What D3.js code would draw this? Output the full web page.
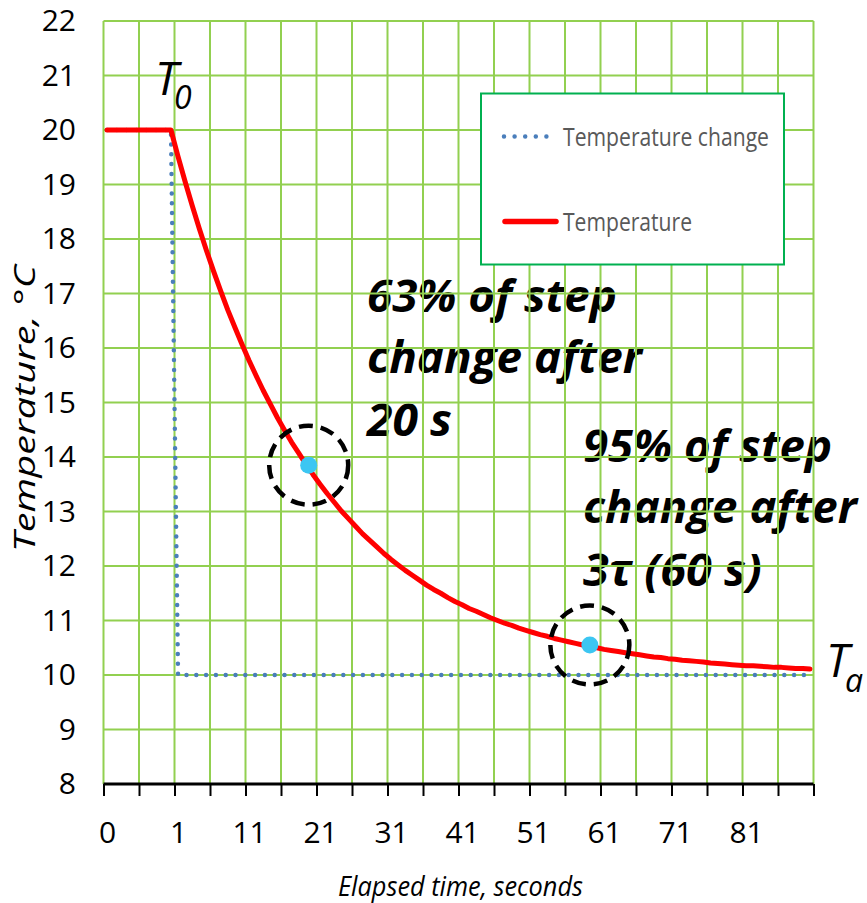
<!DOCTYPE html>
<html>
<head>
<meta charset="utf-8">
<script src="https://cdn.jsdelivr.net/npm/d3@7"></script>
<style>
  body { margin: 0; background: #fff; }
  svg { display: block; }
  .tick text { font-family: 'Liberation Sans Narrow', 'Open Sans', sans-serif; fill: #000; }
</style>
</head>
<body>
<div id="chart"></div>
<script>
// time categories (Excel-style category axis: 0..0.9 then whole seconds)
const timeCategories = [0, 0.1, 0.2, 0.3, 0.4, 0.5, 0.6, 0.7, 0.8, 0.9,
  1, 2, 3, 4, 5, 6, 7, 8, 9, 10, 11, 12, 13, 14, 15, 16, 17, 18, 19, 20,
  21, 22, 23, 24, 25, 26, 27, 28, 29, 30, 31, 32, 33, 34, 35, 36, 37, 38, 39, 40,
  41, 42, 43, 44, 45, 46, 47, 48, 49, 50, 51, 52, 53, 54, 55, 56, 57, 58, 59, 60,
  61, 62, 63, 64, 65, 66, 67, 68, 69, 70, 71, 72, 73, 74, 75, 76, 77, 78, 79, 80,
  81, 82, 83, 84, 85, 86, 87, 88, 89, 90];

// category indices that carry a label (every 10th)
const labelIndices = [0, 10, 20, 30, 40, 50, 60, 70, 80, 90];

// step input: ambient drops from 20 to 10
const stepChange = [20, 20, 20, 20, 20, 20, 20, 20, 20, 20,
  10, 10, 10, 10, 10, 10, 10, 10, 10, 10, 10, 10, 10, 10, 10, 10, 10, 10, 10, 10,
  10, 10, 10, 10, 10, 10, 10, 10, 10, 10, 10, 10, 10, 10, 10, 10, 10, 10, 10, 10,
  10, 10, 10, 10, 10, 10, 10, 10, 10, 10, 10, 10, 10, 10, 10, 10, 10, 10, 10, 10,
  10, 10, 10, 10, 10, 10, 10, 10, 10, 10, 10, 10, 10, 10, 10, 10, 10, 10, 10, 10,
  10, 10, 10, 10, 10, 10, 10, 10, 10, 10];

// sensor temperature response
const temperature = [20, 20, 20, 20, 20, 20, 20, 20, 20,
  20.00, 19.51, 19.05, 18.61, 18.19, 17.79, 17.41, 17.05, 16.70, 16.38,
  16.07, 15.77, 15.49, 15.22, 14.97, 14.72, 14.49, 14.27, 14.07, 13.87,
  13.68, 13.50, 13.33, 13.17, 13.01, 12.87, 12.73, 12.59, 12.47, 12.35,
  12.23, 12.12, 12.02, 11.92, 11.83, 11.74, 11.65, 11.57, 11.50, 11.42,
  11.35, 11.29, 11.22, 11.17, 11.11, 11.05, 11.00, 10.95, 10.91, 10.86,
  10.82, 10.78, 10.74, 10.71, 10.67, 10.64, 10.61, 10.58, 10.55, 10.52,
  10.50, 10.47, 10.45, 10.43, 10.41, 10.39, 10.37, 10.35, 10.33, 10.32,
  10.30, 10.29, 10.27, 10.26, 10.25, 10.24, 10.22, 10.21, 10.20, 10.19,
  10.18, 10.17, 10.17, 10.16, 10.15, 10.14, 10.14, 10.13, 10.12, 10.12,
  10.11];

const yTicks = [8, 9, 10, 11, 12, 13, 14, 15, 16, 17, 18, 19, 20, 21, 22];

// highlighted points (category index, temperature)
const markerIndex = [28.4, 68.0];
const markerTemp = [13.85, 10.55];

const width = 867, height = 903;
const plot = { left: 103.5, right: 813.5, top: 21, bottom: 784 };

const svg = d3.select('#chart').append('svg')
  .attr('width', width)
  .attr('height', height);

// x: category boundaries 0..100, points sit at i + 0.5
const xScale = d3.scaleLinear()
  .domain([0, timeCategories.length])
  .range([plot.left, plot.right]);
const yScale = d3.scaleLinear()
  .domain([8, 22])
  .range([plot.bottom, plot.top]);

const catX = i => xScale(i + 0.5);

// annotation text sits under the grid in the original
const annot = svg.append('g')
  .style('font-family', "'Open Sans', sans-serif")
  .style('font-weight', 'bold')
  .style('font-style', 'italic')
  .style('font-size', '45px');

const annotLines = [
  { t: '63% of step', x: 367, y: 312, w: 250 },
  { t: 'change after', x: 367, y: 373, w: 275 },
  { t: '20 s', x: 367, y: 436, w: 85 },
  { t: '95% of step', x: 583, y: 462, w: 249 },
  { t: 'change after', x: 583, y: 523, w: 274 },
  { t: '3τ (60 s)', x: 583, y: 586, w: 179 }
];
annot.selectAll('text')
  .data(annotLines)
  .join('text')
    .attr('x', d => d.x)
    .attr('y', d => d.y)
    .attr('textLength', d => d.w)
    .attr('lengthAdjust', 'spacingAndGlyphs')
    .text(d => d.t);

// grid
const grid = svg.append('g').attr('class', 'grid');
const xGridVals = d3.range(0, timeCategories.length + 1, 5);
grid.selectAll('.vline')
  .data(xGridVals)
  .join('line')
    .attr('class', 'vline')
    .attr('x1', d => xScale(d)).attr('x2', d => xScale(d))
    .attr('y1', plot.top).attr('y2', plot.bottom)
    .attr('stroke', '#92d050')
    .attr('stroke-width', 2);
grid.selectAll('.hline')
  .data(yTicks)
  .join('line')
    .attr('class', 'hline')
    .attr('x1', plot.left).attr('x2', plot.right)
    .attr('y1', d => yScale(d)).attr('y2', d => yScale(d))
    .attr('stroke', '#92d050')
    .attr('stroke-width', 2);

// y axis labels
const yAxis = d3.axisLeft(yScale)
  .tickValues(yTicks)
  .tickSize(0)
  .tickPadding(27.5)
  .tickFormat(d3.format('d'));
svg.append('g')
  .attr('transform', `translate(${plot.left},0)`)
  .call(yAxis)
  .call(g => g.select('.domain').remove())
  .call(g => g.selectAll('text').style('font-size', '30px'));

// x axis: tick marks at every 5th category boundary
const xTickAxis = d3.axisBottom(xScale)
  .tickValues(xGridVals)
  .tickSize(12)
  .tickFormat('');
svg.append('g')
  .attr('transform', `translate(0,${plot.bottom})`)
  .call(xTickAxis)
  .call(g => g.select('.domain').attr('stroke-width', 3).attr('d', `M${plot.left},0H${plot.right}`))
  .call(g => g.selectAll('.tick line').attr('stroke-width', 2));

// x axis labels at category centres
const xLabelAxis = d3.axisBottom(xScale)
  .tickValues(labelIndices.map(i => i + 0.5))
  .tickSize(0)
  .tickPadding(38)
  .tickFormat(v => timeCategories[Math.round(v - 0.5)]);
svg.append('g')
  .attr('transform', `translate(0,${plot.bottom})`)
  .call(xLabelAxis)
  .call(g => g.select('.domain').remove())
  .call(g => g.selectAll('text').style('font-size', '30px'));

// series
const line = d3.line()
  .x((d, i) => catX(i))
  .y(d => yScale(d));

svg.append('path')
  .datum(stepChange)
  .attr('d', line)
  .attr('fill', 'none')
  .attr('stroke', '#4a7ebb')
  .attr('stroke-width', 4.5)
  .attr('stroke-linecap', 'round')
  .attr('stroke-dasharray', '0 9.8');

svg.append('path')
  .datum(temperature)
  .attr('d', line)
  .attr('fill', 'none')
  .attr('stroke', '#ff0000')
  .attr('stroke-width', 5)
  .attr('stroke-linejoin', 'round')
  .attr('stroke-linecap', 'round');

// highlighted points with dashed rings
const markers = markerIndex.map((m, i) => ({ i: m, t: markerTemp[i] }));
svg.selectAll('.ring')
  .data(markers)
  .join('circle')
    .attr('class', 'ring')
    .attr('cx', d => catX(d.i))
    .attr('cy', d => yScale(d.t))
    .attr('r', 39.5)
    .attr('fill', 'none')
    .attr('stroke', '#000')
    .attr('stroke-width', 4.5)
    .attr('stroke-dasharray', '14 8');
svg.selectAll('.dot')
  .data(markers)
  .join('circle')
    .attr('class', 'dot')
    .attr('cx', d => catX(d.i))
    .attr('cy', d => yScale(d.t))
    .attr('r', 8.5)
    .attr('fill', '#3cc6f2');

// legend
const legend = svg.append('g');
legend.append('rect')
  .attr('x', 481).attr('y', 93.5)
  .attr('width', 303).attr('height', 171)
  .attr('fill', '#fff')
  .attr('stroke', '#00b050')
  .attr('stroke-width', 2);
legend.append('line')
  .attr('x1', 504).attr('x2', 557)
  .attr('y1', 136.5).attr('y2', 136.5)
  .attr('stroke', '#4a7ebb')
  .attr('stroke-width', 4.5)
  .attr('stroke-linecap', 'round')
  .attr('stroke-dasharray', '0 10.6');
legend.append('line')
  .attr('x1', 505).attr('x2', 556)
  .attr('y1', 221.5).attr('y2', 221.5)
  .attr('stroke', '#ff0000')
  .attr('stroke-width', 5.5)
  .attr('stroke-linecap', 'round');
const legendText = [
  { t: 'Temperature change', y: 145.5, w: 206 },
  { t: 'Temperature', y: 230.5, w: 129 }
];
legend.selectAll('text')
  .data(legendText)
  .join('text')
    .attr('x', 563)
    .attr('y', d => d.y)
    .attr('textLength', d => d.w)
    .attr('lengthAdjust', 'spacingAndGlyphs')
    .style('font-family', "'Open Sans', sans-serif")
    .style('font-size', '25px')
    .attr('fill', '#595959')
    .text(d => d.t);

// axis titles
svg.append('text')
  .attr('x', 338).attr('y', 896)
  .attr('textLength', 245)
  .attr('lengthAdjust', 'spacingAndGlyphs')
  .style('font-family', "'Open Sans', sans-serif")
  .style('font-style', 'italic')
  .style('font-size', '28px')
  .text('Elapsed time, seconds');

svg.append('text')
  .attr('transform', 'translate(35,552) rotate(-90)')
  .attr('textLength', 287)
  .attr('lengthAdjust', 'spacingAndGlyphs')
  .style('font-family', "'Open Sans', sans-serif")
  .style('font-style', 'italic')
  .style('font-size', '30px')
  .text('Temperature,  °C');

// T0 and Ta labels
const tLabel = (x, y, sub, subDx, subDy) => {
  const t = svg.append('text')
    .attr('x', x).attr('y', y)
    .style('font-family', "'Open Sans', sans-serif")
    .style('font-style', 'italic');
  t.append('tspan').style('font-size', '46px').text('T');
  t.append('tspan').attr('dx', subDx).attr('dy', subDy).style('font-size', '32px').text(sub);
};
tLabel(155, 95, '0', -4, 14);
tLabel(826, 677, 'a', -4, 15);
</script>
</body>
</html>
